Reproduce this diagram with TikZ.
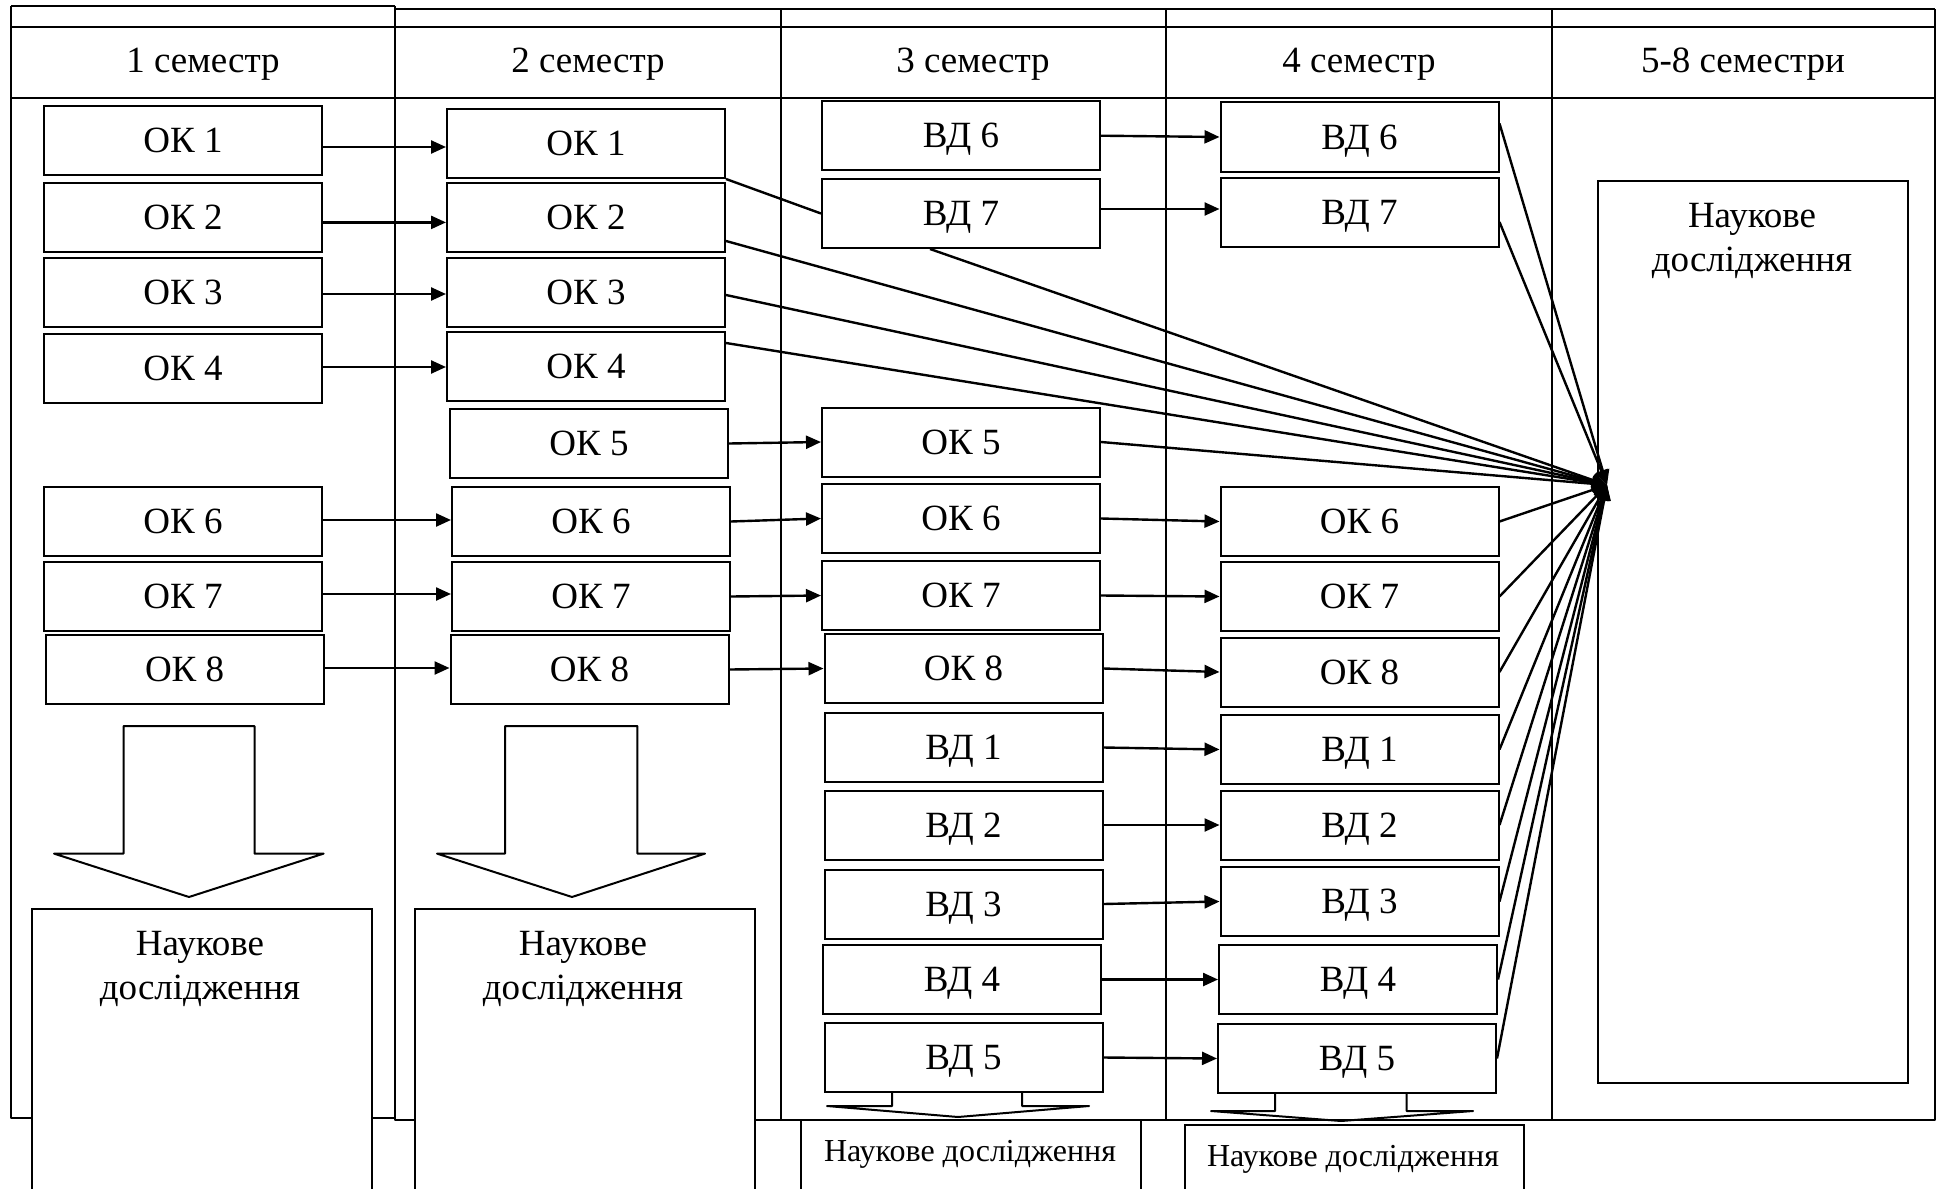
\documentclass[tikz,border=0pt]{standalone}
\usepackage{fontspec}
\setmainfont{Liberation Serif}
\usetikzlibrary{arrows.meta}
\begin{document}
\begin{tikzpicture}[x=1pt,y=-1pt,
  box/.style={draw, line width=2pt, minimum width=278pt, minimum height=69pt, inner sep=0pt, text height=24.5pt, text depth=0pt, font=\fontsize{37}{44}\selectfont},
  tbl/.style={line width=2pt, line join=round},
  hd/.style={inner sep=0pt, text height=24.5pt, text depth=0pt, font=\fontsize{37}{44}\selectfont},
  arr/.style={line width=2.4pt, -{Triangle[length=15pt,width=13pt]}},
  con/.style={line width=2.4pt},
  ntext/.style={align=center, inner sep=0pt, font=\fontsize{37}{44}\selectfont},
  stext/.style={inner sep=0pt, font=\fontsize{32}{38}\selectfont},
  nbox/.style={draw, line width=2pt, fill=white, anchor=north west, inner sep=0pt}]
\useasboundingbox (0,0) rectangle (1937,1188);

% table
\draw[tbl] (11,6) -- (395,6);
\draw[tbl] (395,9) -- (1935,9);
\draw[tbl] (11,27) -- (1935,27);
\draw[tbl] (11,98) -- (1935,98);
\draw[tbl] (11,6) -- (11,1118) -- (395,1118);
\draw[tbl] (395,6) -- (395,1120) -- (1935,1120) -- (1935,9);
\draw[tbl] (781,9) -- (781,1120);
\draw[tbl] (1166,9) -- (1166,1120);
\draw[tbl] (1552,9) -- (1552,1120);

% headers
\node[hd] (h1) at (203,60.5) {1 семестр};
\node[hd] (h2) at (588,60.5) {2 семестр};
\node[hd] (h3) at (973,60.5) {3 семестр};
\node[hd] (h4) at (1359,60.5) {4 семестр};
\node[hd] (h5) at (1743,60.5) {5-8 семестри};

% column 1
\node[box] (c1k1) at (183,140.5) {ОК 1};
\node[box] (c1k2) at (183,217.5) {ОК 2};
\node[box] (c1k3) at (183,292.5) {ОК 3};
\node[box] (c1k4) at (183,368) {ОК 4};
\node[box] (c1k6) at (183,521.5) {ОК 6};
\node[box] (c1k7) at (183,596.5) {ОК 7};
\node[box] (c1k8) at (184.6,669.5) {ОК 8};

% column 2
\node[box] (c2k1) at (586,143.5) {ОК 1};
\node[box] (c2k2) at (586,217.5) {ОК 2};
\node[box] (c2k3) at (586,292.5) {ОК 3};
\node[box] (c2k4) at (586,366.5) {ОК 4};
\node[box] (c2k5) at (589,443.5) {ОК 5};
\node[box] (c2k6) at (591,521.5) {ОК 6};
\node[box] (c2k7) at (591,596.5) {ОК 7};
\node[box] (c2k8) at (589.5,669.5) {ОК 8};

% column 3
\node[box] (c3v6) at (961,135.7) {ВД 6};
\node[box] (c3v7) at (961,213.5) {ВД 7};
\node[box] (c3k5) at (961,442) {ОК 5};
\node[box] (c3k6) at (961,518.5) {ОК 6};
\node[box] (c3k7) at (961,595.5) {ОК 7};
\node[box] (c3k8) at (963.5,668.5) {ОК 8};
\node[box] (c3v1) at (963.5,747.5) {ВД 1};
\node[box] (c3v2) at (963.5,825) {ВД 2};
\node[box] (c3v3) at (963.5,904) {ВД 3};
\node[box] (c3v4) at (962,979.5) {ВД 4};
\node[box] (c3v5) at (963.5,1057.5) {ВД 5};

% column 4
\node[box] (c4v6) at (1359.5,137) {ВД 6};
\node[box] (c4v7) at (1359.5,212.5) {ВД 7};
\node[box] (c4k6) at (1359.5,521.5) {ОК 6};
\node[box] (c4k7) at (1359.5,596.5) {ОК 7};
\node[box] (c4k8) at (1359.5,672) {ОК 8};
\node[box] (c4v1) at (1359.5,749.5) {ВД 1};
\node[box] (c4v2) at (1359.5,825) {ВД 2};
\node[box] (c4v3) at (1359.5,901.5) {ВД 3};
\node[box] (c4v4) at (1358,979.5) {ВД 4};
\node[box] (c4v5) at (1357,1058.5) {ВД 5};

% column 5
\node[nbox, minimum width=310pt, minimum height=902pt] (n5) at (1597,180) {};
\node[ntext] (t5) at (1752,240.5) {Наукове\\дослідження};
\coordinate (T) at (1607,485);

% block arrows
\draw[tbl, fill=white] (123.5,726) -- (254.5,726) -- (254.5,853.6) -- (323.6,853.6) -- (189,897) -- (54,853.6) -- (123.5,853.6) -- cycle;
\draw[tbl, fill=white] (505,726) -- (637.4,726) -- (637.4,853.6) -- (705,853.6) -- (572,897) -- (437,853.6) -- (505,853.6) -- cycle;
\draw[tbl] (892,1092) -- (892,1106) -- (827,1106) -- (958,1117) -- (1089,1106) -- (1022,1106) -- (1022,1092);
\draw[tbl] (1275,1093) -- (1275,1111) -- (1211,1111) -- (1341,1121) -- (1473,1111) -- (1406.5,1111) -- (1406.5,1093);

% research boxes at bottom
\node[nbox, minimum width=339.6pt, minimum height=300pt] (n1) at (31,908) {};
\node[ntext] (t1) at (200,969) {Наукове\\дослідження};
\node[nbox, minimum width=339.6pt, minimum height=300pt] (n2) at (414,908) {};
\node[ntext] (t2) at (583,969) {Наукове\\дослідження};
\node[nbox, minimum width=340pt, minimum height=100pt] (n3) at (800,1119) {};
\node[stext] (t3) at (970,1154) {Наукове дослідження};
\node[nbox, minimum width=339pt, minimum height=100pt] (n4) at (1184,1124) {};
\node[stext] (t4) at (1353,1159) {Наукове дослідження};

% col1 -> col2
\draw[arr] (c1k1.east |- 0,147) -- (c2k1.west |- 0,147);
\draw[arr] (c1k2.east |- 0,222.4) -- (c2k2.west |- 0,222.4);
\draw[arr] (c1k3.east |- 0,294) -- (c2k3.west |- 0,294);
\draw[arr] (c1k4.east |- 0,367) -- (c2k4.west |- 0,367);
\draw[arr] (c1k6.east |- 0,520) -- (c2k6.west |- 0,520);
\draw[arr] (c1k7.east |- 0,594) -- (c2k7.west |- 0,594);
\draw[arr] (c1k8.east |- 0,668) -- (c2k8.west |- 0,668);

% col2 -> col3
\draw[arr] (c2k5.east) -- (c3k5.west);
\draw[arr] (c2k6.east) -- (c3k6.west);
\draw[arr] (c2k7.east) -- (c3k7.west);
\draw[arr] (c2k8.east) -- (c3k8.west);
\draw[con] (c2k1.south east) -- (c3v7.west);

% col3 -> col4
\draw[arr] (c3v6.east) -- (c4v6.west);
\draw[arr] (c3v7.east |- 0,209) -- (c4v7.west |- 0,209);
\draw[arr] (c3k6.east) -- (c4k6.west);
\draw[arr] (c3k7.east) -- (c4k7.west);
\draw[arr] (c3k8.east) -- (c4k8.west);
\draw[arr] (c3v1.east) -- (c4v1.west);
\draw[arr] (c3v2.east) -- (c4v2.west);
\draw[arr] (c3v3.east) -- (c4v3.west);
\draw[arr] (c3v4.east) -- (c4v4.west);
\draw[arr] (c3v5.east) -- (c4v5.west);

% to research (5-8)
\draw[arr] (c3v7.south -| 930,0) -- (T);
\draw[arr] (c2k2.east |- 0,241) -- (T);
\draw[arr] (c2k3.east |- 0,295) -- (T);
\draw[arr] (c2k4.east |- 0,343) -- (T);
\draw[arr] (c3k5.east) -- (T);
\draw[arr] (c4v6.east |- 0,123.5) -- (T);
\draw[arr] (c4v7.east |- 0,222) -- (T);
\draw[arr] (c4k6.east) -- (T);
\draw[arr] (c4k7.east) -- (T);
\draw[arr] (c4k8.east) -- (T);
\draw[arr] (c4v1.east) -- (T);
\draw[arr] (c4v2.east) -- (T);
\draw[arr] (c4v3.east) -- (T);
\draw[arr] (c4v4.east) -- (T);
\draw[arr] (c4v5.east) -- (T);
\end{tikzpicture}
\end{document}
